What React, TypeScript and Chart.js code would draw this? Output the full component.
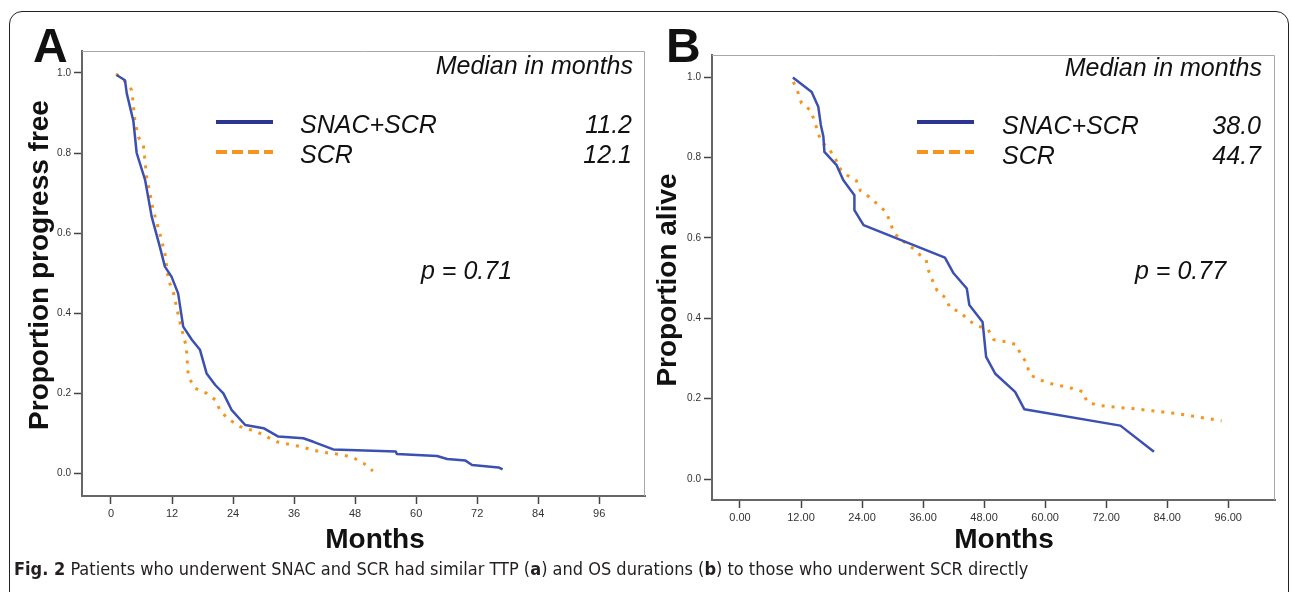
import React, { useEffect, useRef } from 'react';
import { Chart, registerables } from 'chart.js';

Chart.register(...registerables);

// ---------- data ----------
const xTicksMonths = [0, 12, 24, 36, 48, 60, 72, 84, 96];
const yTicksProp = [0, 0.2, 0.4, 0.6, 0.8, 1.0];
const seriesNames = ['SNAC+SCR', 'SCR'];

// Panel A: time to progression
const aSnacMonths = [1.1, 2.75, 3.1, 4.4, 5.05, 6.7, 8.0, 9.6, 10.6, 11.9, 13.2, 14.2, 15.9, 17.5, 18.8, 20.5, 22.1, 23.7, 26.4, 30.0, 32.9, 37.8, 39.8, 43.7, 56.0, 56.2, 64.1, 66.1, 69.7, 71.0, 76.2, 77.0];
const aSnacProp = [0.995, 0.982, 0.949, 0.88, 0.8, 0.733, 0.641, 0.566, 0.516, 0.491, 0.449, 0.366, 0.333, 0.308, 0.249, 0.22, 0.199, 0.158, 0.12, 0.112, 0.091, 0.087, 0.078, 0.059, 0.054, 0.0475, 0.0425, 0.035, 0.031, 0.02, 0.014, 0.009];
const aScrMonths = [1.0, 2.95, 4.1, 4.7, 5.4, 6.4, 7.0, 8.3, 9.6, 10.6, 11.3, 12.3, 13.6, 14.8, 15.2, 16.5, 18.8, 20.5, 21.4, 22.8, 25.4, 28.7, 32.6, 37.2, 41.1, 45.7, 47.7, 49.7, 51.5];
const aScrProp = [0.998, 0.976, 0.957, 0.88, 0.84, 0.816, 0.741, 0.658, 0.599, 0.549, 0.483, 0.449, 0.374, 0.316, 0.241, 0.212, 0.199, 0.183, 0.158, 0.137, 0.116, 0.103, 0.078, 0.066, 0.053, 0.045, 0.038, 0.024, 0.005];
const aMedians = ['11.2', '12.1'];
const aPValue = 'p = 0.71';

// Panel B: overall survival
const bSnacMonths = [10.4, 14.1, 15.4, 15.9, 16.4, 16.6, 19.0, 20.3, 22.5, 22.5, 24.3, 40.3, 42.0, 44.6, 45.1, 47.7, 48.4, 50.2, 54.1, 55.9, 74.8, 81.4];
const bSnacProp = [0.999, 0.963, 0.926, 0.881, 0.852, 0.814, 0.781, 0.744, 0.706, 0.669, 0.632, 0.551, 0.512, 0.474, 0.433, 0.391, 0.304, 0.262, 0.217, 0.174, 0.133, 0.068];
const bScrMonths = [10.5, 11.5, 12.1, 13.8, 14.6, 15.2, 15.9, 17.4, 18.7, 19.5, 21.1, 22.9, 23.7, 25.4, 27.0, 28.7, 29.5, 30.2, 31.5, 33.1, 34.9, 36.6, 37.1, 37.9, 38.8, 40.5, 41.3, 43.3, 44.8, 46.6, 48.8, 49.9, 52.1, 54.3, 55.1, 56.4, 56.9, 58.7, 61.0, 65.2, 67.5, 68.2, 70.2, 74.4, 76.7, 81.0, 85.9, 89.8, 94.7];
const bScrProp = [0.988, 0.959, 0.935, 0.918, 0.893, 0.868, 0.841, 0.823, 0.8, 0.774, 0.756, 0.742, 0.717, 0.702, 0.684, 0.665, 0.64, 0.615, 0.596, 0.584, 0.563, 0.545, 0.518, 0.493, 0.468, 0.45, 0.425, 0.416, 0.396, 0.382, 0.372, 0.347, 0.342, 0.335, 0.313, 0.288, 0.261, 0.248, 0.238, 0.226, 0.217, 0.192, 0.184, 0.178, 0.176, 0.17, 0.163, 0.155, 0.145];
const bMedians = ['38.0', '44.7'];
const bPValue = 'p = 0.77';

// ---------- styling ----------
const FONT = '"Liberation Sans", Arial, sans-serif';
const BLUE = '#3c50b2';
const BLUE_LEG = '#2c3590';
const ORANGE = '#f7941d';

const pts = (xs: number[], ys: number[]) => xs.map((x, i) => ({ x, y: ys[i] }));

const overlayPlugin = {
  id: 'overlay',
  afterDraw(chart: any, _args: any, opts: any) {
    const ctx = chart.ctx as CanvasRenderingContext2D;
    const ox = opts.ox || 0;
    const a = chart.chartArea;
    ctx.save();
    // light frame on top / right
    ctx.strokeStyle = '#a8a8a8';
    ctx.lineWidth = 1;
    ctx.beginPath();
    ctx.moveTo(a.left, a.top + 0.5);
    ctx.lineTo(a.right - 0.5, a.top + 0.5);
    ctx.lineTo(a.right - 0.5, a.bottom);
    ctx.stroke();
    // legend sample lines
    for (const l of opts.lines || []) {
      ctx.beginPath();
      ctx.strokeStyle = l.color;
      ctx.lineWidth = l.width;
      ctx.setLineDash(l.dash || []);
      ctx.moveTo(l.x1 - ox, l.y);
      ctx.lineTo(l.x2 - ox, l.y);
      ctx.stroke();
    }
    ctx.setLineDash([]);
    // texts
    for (const t of opts.texts || []) {
      ctx.save();
      ctx.font = t.font;
      ctx.fillStyle = t.color || '#111';
      ctx.textAlign = t.align || 'left';
      ctx.textBaseline = t.baseline || 'alphabetic';
      ctx.translate(t.x - ox, t.y);
      if (t.rot) ctx.rotate(t.rot);
      ctx.fillText(t.text, 0, 0);
      ctx.restore();
    }
    ctx.restore();
  },
};

type PanelProps = {
  left: number;
  width: number;
  areaLeft: number;
  areaRight: number;
  areaTop: number;
  areaBottom: number;
  xMin: number;
  xMax: number;
  yMin: number;
  yMax: number;
  xFmt: (v: number) => string;
  snac: { x: number; y: number }[];
  scr: { x: number; y: number }[];
  texts: any[];
  lines: any[];
};

function Panel(p: PanelProps) {
  const ref = useRef<HTMLCanvasElement | null>(null);
  useEffect(() => {
    if (!ref.current) return;
    const height = 592;
    const chart = new Chart(ref.current, {
      type: 'line',
      data: {
        datasets: [
          {
            label: seriesNames[0],
            data: p.snac,
            borderColor: BLUE,
            borderWidth: 2.5,
            pointRadius: 0,
            tension: 0,
            borderJoinStyle: 'round',
          },
          {
            label: seriesNames[1],
            data: p.scr,
            borderColor: ORANGE,
            borderWidth: 3,
            borderDash: [3, 7],
            pointRadius: 0,
            tension: 0,
          },
        ],
      },
      options: {
        responsive: false,
        animation: false,
        events: [],
        layout: {
          padding: { left: 0, top: p.areaTop, right: p.width - (p.areaRight - p.left), bottom: 0 },
        },
        plugins: {
          legend: { display: false },
          tooltip: { enabled: false },
          overlay: { ox: p.left, texts: p.texts, lines: p.lines },
        } as any,
        scales: {
          x: {
            type: 'linear',
            min: p.xMin,
            max: p.xMax,
            afterBuildTicks: (s: any) => {
              s.ticks = xTicksMonths.map((v) => ({ value: v }));
            },
            afterFit: (s: any) => {
              s.height = height - p.areaBottom;
            },
            grid: { drawOnChartArea: false, drawTicks: true, tickLength: 8, tickWidth: 1.5, tickColor: '#444' },
            border: { display: true, color: '#666', width: 2 },
            ticks: {
              autoSkip: false,
              maxRotation: 0,
              padding: 3,
              color: '#333',
              font: { family: FONT, size: 11 },
              callback: (v: any) => p.xFmt(Number(v)),
            },
          },
          y: {
            type: 'linear',
            min: p.yMin,
            max: p.yMax,
            afterBuildTicks: (s: any) => {
              s.ticks = yTicksProp.map((v) => ({ value: v }));
            },
            afterFit: (s: any) => {
              s.width = p.areaLeft - p.left;
            },
            grid: { drawOnChartArea: false, drawTicks: true, tickLength: 8, tickWidth: 1.5, tickColor: '#444' },
            border: { display: true, color: '#666', width: 2 },
            ticks: {
              autoSkip: false,
              padding: 3,
              color: '#333',
              font: { family: FONT, size: 10 },
              callback: (v: any) => Number(v).toFixed(1),
            },
          },
        },
      },
      plugins: [overlayPlugin],
    } as any);
    return () => chart.destroy();
  }, []);
  return (
    <canvas
      ref={ref}
      width={p.width}
      height={592}
      style={{ position: 'absolute', left: p.left, top: 0, width: p.width, height: 592 }}
    />
  );
}

const ITAL = `italic 25px ${FONT}`;
const BOLD28 = `bold 28px ${FONT}`;
const LETTER = `bold 48px ${FONT}`;

function panelTexts(o: {
  letter: string; lx: number; yTitle: string; ytx: number; yty: number; mx: number;
  medRight: number; medBase: number; legX: number; valRight: number; row1: number; row2: number;
  meds: string[]; pv: string; px: number; py: number;
}) {
  return [
    { text: o.letter, x: o.lx, y: 62, font: LETTER },
    { text: o.yTitle, x: o.ytx, y: o.yty, font: BOLD28, align: 'center', baseline: 'middle', rot: -Math.PI / 2 },
    { text: 'Months', x: o.mx, y: 540, font: BOLD28, align: 'center', baseline: 'middle' },
    { text: 'Median in months', x: o.medRight, y: o.medBase, font: ITAL, align: 'right' },
    { text: seriesNames[0], x: o.legX, y: o.row1, font: ITAL, baseline: 'middle' },
    { text: seriesNames[1], x: o.legX, y: o.row2, font: ITAL, baseline: 'middle' },
    { text: o.meds[0], x: o.valRight, y: o.row1, font: ITAL, align: 'right', baseline: 'middle' },
    { text: o.meds[1], x: o.valRight, y: o.row2, font: ITAL, align: 'right', baseline: 'middle' },
    { text: o.pv, x: o.px, y: o.py, font: ITAL, baseline: 'middle' },
  ];
}

function legendLines(x1: number, x2: number, y1: number, y2: number) {
  return [
    { x1, x2, y: y1, color: BLUE_LEG, width: 4 },
    { x1, x2, y: y2, color: ORANGE, width: 4, dash: [11, 5] },
  ];
}

export default function App() {
  const textsA = panelTexts({
    letter: 'A', lx: 33, yTitle: 'Proportion progress free', ytx: 40, yty: 265, mx: 375,
    medRight: 633, medBase: 74, legX: 300, valRight: 632, row1: 126, row2: 156,
    meds: aMedians, pv: aPValue, px: 421, py: 272,
  });
  const textsB = panelTexts({
    letter: 'B', lx: 666, yTitle: 'Proportion alive', ytx: 668, yty: 280, mx: 1004,
    medRight: 1262, medBase: 76, legX: 1002, valRight: 1261, row1: 127, row2: 157,
    meds: bMedians, pv: bPValue, px: 1135, py: 272,
  });
  return (
    <div style={{ position: 'absolute', left: 0, top: 0, width: 1292, height: 592, overflow: 'hidden', background: '#fff' }}>
      <div
        style={{
          position: 'absolute', left: 9, top: 11, width: 1280, height: 640,
          border: '1.5px solid #222', borderRadius: 13, boxSizing: 'border-box',
        }}
      />
      <Panel
        left={0} width={655} areaLeft={82} areaRight={645} areaTop={51} areaBottom={496}
        xMin={-5.7} xMax={105} yMin={-0.0575} yMax={1.055}
        xFmt={(v) => String(v)}
        snac={pts(aSnacMonths, aSnacProp)} scr={pts(aScrMonths, aScrProp)}
        texts={textsA} lines={legendLines(216, 273, 122, 152)}
      />
      <Panel
        left={655} width={637} areaLeft={712} areaRight={1275} areaTop={55} areaBottom={500}
        xMin={-5.5} xMax={105.2} yMin={-0.052} yMax={1.055}
        xFmt={(v) => v.toFixed(2)}
        snac={pts(bSnacMonths, bSnacProp)} scr={pts(bScrMonths, bScrProp)}
        texts={textsB} lines={legendLines(917, 974, 122, 152)}
      />
      <div
        style={{
          position: 'absolute', left: 14, top: 557, whiteSpace: 'nowrap',
          fontFamily: '"Liberation Sans Narrow", "DejaVu Sans Condensed", sans-serif',
          fontSize: 18, color: '#231f20', lineHeight: '24px',
        }}
      >
        <b>Fig. 2</b> Patients who underwent SNAC and SCR had similar TTP (<b>a</b>) and OS durations (<b>b</b>) to those who underwent SCR directly
      </div>
    </div>
  );
}
